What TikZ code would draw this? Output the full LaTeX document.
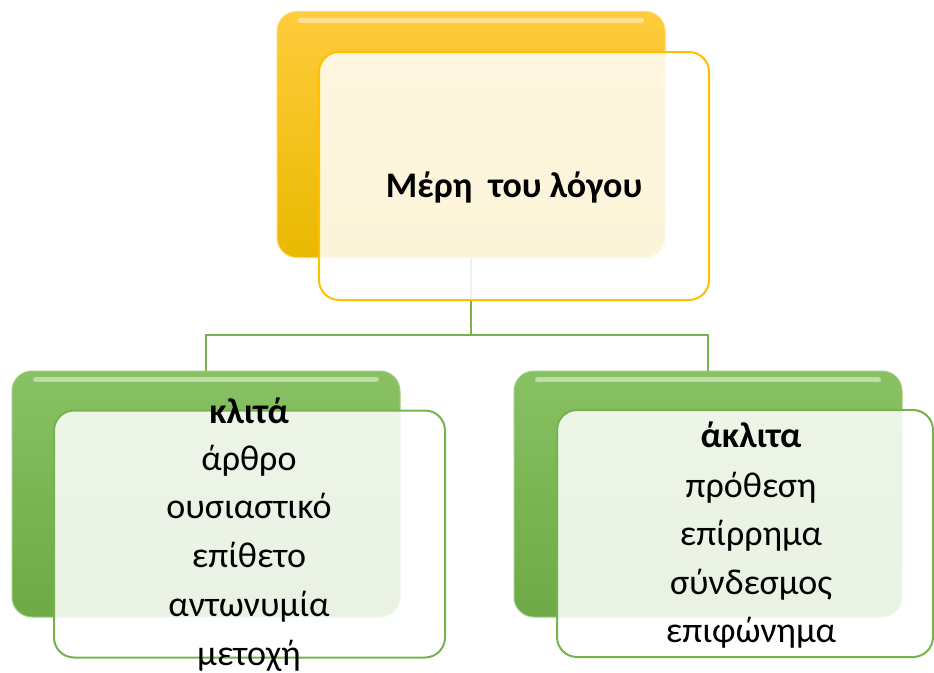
\documentclass[tikz,border=0pt]{standalone}
\usepackage{fontspec}
\setmainfont{Carlito}
\usetikzlibrary{calc}

\definecolor{goldtop}{HTML}{FFCC3C}
\definecolor{goldbot}{HTML}{E9B900}
\definecolor{goldline}{HTML}{FFC000}
\definecolor{leaftop}{HTML}{88C163}
\definecolor{leafbot}{HTML}{6DAA45}
\definecolor{leafline}{HTML}{77B24C}

\tikzset{
  basebox/.style={rounded corners=20pt, minimum width=388pt, minimum height=246pt, inner sep=0pt},
  goldbox/.style={basebox, top color=goldtop, bottom color=goldbot, draw=goldtop!80!white, line width=1pt},
  leafbox/.style={basebox, top color=leaftop, bottom color=leafbot, draw=leaftop!80!white, line width=1pt},
  glass/.style={rounded corners=20pt, minimum height=247pt, inner sep=0pt, fill=white, fill opacity=0.85, line width=2pt},
  gloss/.style={white, opacity=0.45, line width=5pt, line cap=round},
  link/.style={leafline, line width=2.5pt},
  word/.style={font=\fontsize{36}{40}\selectfont, anchor=base, inner sep=0pt}
}

\begin{document}
\begin{tikzpicture}[x=1pt,y=-1pt]
  \useasboundingbox (0,0) rectangle (934,672);

  % back boxes
  \node[goldbox] (topbase) at (471,134.5) {};
  \node[leafbox] (leftbase) at (206,494) {};
  \node[leafbox] (rightbase) at (708,494) {};

  \draw[gloss] ($(topbase.north west)+(24,9)$) -- ($(topbase.north east)+(-24,9)$);
  \draw[gloss] ($(leftbase.north west)+(24,9)$) -- ($(leftbase.north east)+(-24,9)$);
  \draw[gloss] ($(rightbase.north west)+(24,9)$) -- ($(rightbase.north east)+(-24,9)$);

  % connectors
  \coordinate (fork) at (471,335);
  \draw[link] (topbase.south) -- (fork);
  \draw[link] (leftbase.north) |- (fork) -| (rightbase.north);

  % front boxes
  \node[glass, draw=goldline, minimum width=390pt, minimum height=248pt] (topfront) at (514,176) {};
  \node[glass, draw=leafline, minimum width=391pt] (leftfront) at (249.5,534) {};
  \node[glass, draw=leafline, minimum width=376pt] (rightfront) at (745,533.5) {};

  % texts
  \node[word] (title) at (514,197) {\textbf{Μέρη\ \ του λόγου}};

  \node[word] (lefthead) at (249,423) {\textbf{κλιτά}};
  \foreach \w [count=\i] in {άρθρο, ουσιαστικό, επίθετο, αντωνυμία, μετοχή}
    \node[word] (left\i) at (249,{470+48.8*(\i-1)}) {\w};

  \node[word] (righthead) at (751,447) {\textbf{άκλιτα}};
  \foreach \w [count=\i] in {πρόθεση, επίρρημα, σύνδεσμος, επιφώνημα}
    \node[word] (right\i) at (751,{497+48.5*(\i-1)}) {\w};
\end{tikzpicture}
\end{document}
